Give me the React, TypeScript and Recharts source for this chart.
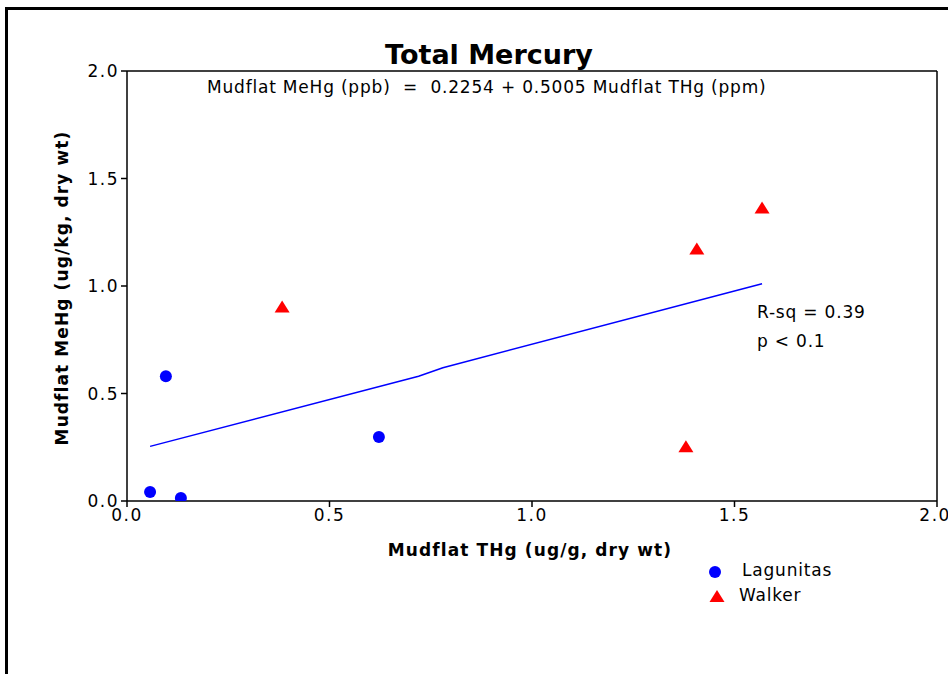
import React from 'react';
import { ComposedChart, Scatter, XAxis, YAxis, ReferenceLine } from 'recharts';

const lagunitasTHg = [0.057, 0.096, 0.133, 0.622];
const lagunitasMeHg = [0.042, 0.58, 0.014, 0.298];
const walkerTHg = [0.383, 1.38, 1.407, 1.568];
const walkerMeHg = [0.9, 0.25, 1.17, 1.36];
const fitTHg = [0.057, 0.72, 0.78, 1.568];
const fitMeHg = [0.254, 0.58, 0.62, 1.01];
const ticks = [0, 0.5, 1.0, 1.5, 2.0];

const lagunitas = lagunitasTHg.map((x, i) => ({ x, y: lagunitasMeHg[i] }));
const walker = walkerTHg.map((x, i) => ({ x, y: walkerMeHg[i] }));
const fit = fitTHg.map((x, i) => ({ x, y: fitMeHg[i] }));

const font = '"DejaVu Sans", Verdana, sans-serif';

const Dot = (props: any) => <circle cx={props.cx} cy={props.cy} r={6} fill="#0000ff" />;
const Tri = (props: any) => {
    const { cx, cy } = props;
    return <polygon points={`${cx - 7.5},${cy + 5} ${cx + 7.5},${cy + 5} ${cx},${cy - 7}`} fill="#ff0000" />;
};
const Nothing = () => <g />;

const tickStyle = { fill: '#000', fontSize: 17, fontFamily: font, letterSpacing: 1.5 };

function App() {
    return (
        <div style={{ position: 'absolute', left: 0, top: 0, width: 948, height: 674, overflow: 'hidden', background: '#fff', fontFamily: font, letterSpacing: 0.8 }}>
            <div style={{ position: 'absolute', left: 5, top: 7, width: 1000, height: 1000, border: '3px solid #000', boxSizing: 'border-box' }} />
            <ComposedChart width={948} height={674} margin={{ top: 71, right: 11, bottom: 133, left: 67 }} style={{ position: 'absolute', left: 0, top: 0 }}>
                <XAxis type="number" dataKey="x" domain={[0, 2]} ticks={ticks} tickFormatter={(v: number) => v.toFixed(1)}
                    stroke="#000" strokeWidth={1.5} tickSize={6} height={40} allowDataOverflow tick={tickStyle} />
                <YAxis type="number" dataKey="y" domain={[0, 2]} ticks={ticks} tickFormatter={(v: number) => v.toFixed(1)}
                    stroke="#000" strokeWidth={1.5} tickSize={6} width={60} allowDataOverflow tick={tickStyle} />
                <ReferenceLine y={2} stroke="#000" strokeWidth={1.5} />
                <ReferenceLine x={2} stroke="#000" strokeWidth={1.5} />
                <Scatter data={fit} line={{ stroke: '#0000ff', strokeWidth: 1.5 }} lineType="joint" shape={Nothing} isAnimationActive={false} />
                <Scatter data={lagunitas} shape={Dot} isAnimationActive={false} />
                <Scatter data={walker} shape={Tri} isAnimationActive={false} />
            </ComposedChart>
            <div style={{ position: 'absolute', left: 0, width: 978, top: 38, textAlign: 'center', fontSize: 27, fontWeight: 'bold', lineHeight: '34px', letterSpacing: 0 }}>Total Mercury</div>
            <div style={{ position: 'absolute', left: 207, top: 77, fontSize: 17, whiteSpace: 'pre' }}>Mudflat MeHg (ppb)  =  0.2254 + 0.5005 Mudflat THg (ppm)</div>
            <div style={{ position: 'absolute', left: 757, top: 298, fontSize: 17, lineHeight: '29px' }}>R-sq = 0.39<br />p &lt; 0.1</div>
            <div style={{ position: 'absolute', left: 0, width: 1060, top: 540, textAlign: 'center', fontSize: 17, fontWeight: 'bold', letterSpacing: 1.1 }}>Mudflat THg (ug/g, dry wt)</div>
            <div style={{ position: 'absolute', left: 62, top: 288, width: 0, height: 0 }}>
                <div style={{ position: 'absolute', transform: 'translate(-50%, -50%) rotate(-90deg)', whiteSpace: 'nowrap', fontSize: 17, fontWeight: 'bold', letterSpacing: 1.1 }}>Mudflat MeHg (ug/kg, dry wt)</div>
            </div>
            <svg style={{ position: 'absolute', left: 0, top: 0 }} width={948} height={674}>
                <Dot cx={715} cy={572} />
                <Tri cx={717} cy={597} />
            </svg>
            <div style={{ position: 'absolute', left: 742, top: 560, fontSize: 17 }}>Lagunitas</div>
            <div style={{ position: 'absolute', left: 739, top: 585, fontSize: 17 }}>Walker</div>
        </div>
    );
}

export default App;
